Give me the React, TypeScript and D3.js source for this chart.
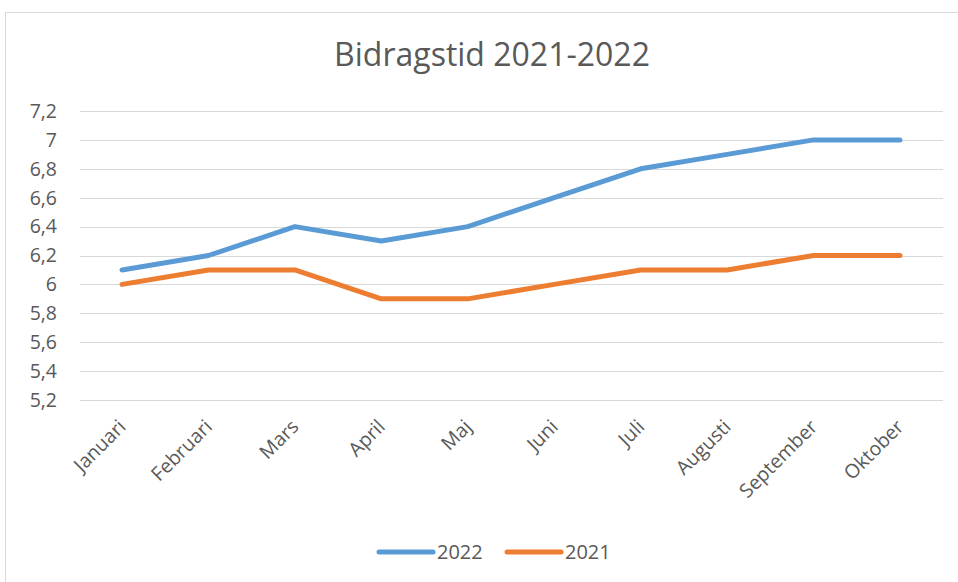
import { useEffect, useRef } from "react";
import * as d3 from "d3";

const months = ["Januari", "Februari", "Mars", "April", "Maj", "Juni", "Juli", "Augusti", "September", "Oktober"];
const values2022 = [6.1, 6.2, 6.4, 6.3, 6.4, 6.6, 6.8, 6.9, 7.0, 7.0];
const values2021 = [6.0, 6.1, 6.1, 5.9, 5.9, 6.0, 6.1, 6.1, 6.2, 6.2];
const yTicks = [5.2, 5.4, 5.6, 5.8, 6.0, 6.2, 6.4, 6.6, 6.8, 7.0, 7.2];

const series = [
  { name: "2022", values: values2022, color: "#5b9bd5" },
  { name: "2021", values: values2021, color: "#ed7d31" },
];

export default function App() {
  const svgRef = useRef<SVGSVGElement>(null);

  useEffect(() => {
    const width = 958;
    const height = 582;
    const font = "'Open Sans', sans-serif";
    const textColor = "#595959";

    const svg = d3.select(svgRef.current)
      .attr("width", width)
      .attr("height", height);
    svg.selectAll("*").remove();

    svg.append("rect")
      .attr("width", width)
      .attr("height", height)
      .attr("fill", "white");

    // chart border
    svg.append("rect")
      .attr("x", 5.5)
      .attr("y", 12.5)
      .attr("width", 960)
      .attr("height", 600)
      .attr("fill", "none")
      .attr("stroke", "#d9d9d9");

    const x = d3.scalePoint<string>()
      .domain(months)
      .range([122, 900]);

    const y = d3.scaleLinear()
      .domain([5.2, 7.2])
      .range([400, 111]);

    // grid
    svg.append("g")
      .selectAll("line")
      .data(yTicks)
      .join("line")
      .attr("x1", 80)
      .attr("x2", 943)
      .attr("y1", d => Math.round(y(d)) + 0.5)
      .attr("y2", d => Math.round(y(d)) + 0.5)
      .attr("stroke", "#d9d9d9")
      .attr("stroke-width", 1);

    // y labels
    svg.append("g")
      .selectAll("text")
      .data(yTicks)
      .join("text")
      .attr("x", 57)
      .attr("y", d => y(d))
      .attr("dy", "0.35em")
      .attr("text-anchor", "end")
      .attr("font-family", font)
      .attr("font-size", 19.5)
      .attr("fill", textColor)
      .text(d => d3.format(".1~f")(d).replace(".", ","));

    // x labels
    svg.append("g")
      .selectAll("text")
      .data(months)
      .join("text")
      .attr("transform", d => `translate(${x(d)! + 5},${428}) rotate(-45)`)
      .attr("text-anchor", "end")
      .attr("font-family", font)
      .attr("font-size", 19.5)
      .attr("fill", textColor)
      .text(d => d);

    const line = d3.line<number>()
      .x((_, i) => x(months[i])!)
      .y(d => y(d));

    svg.append("g")
      .selectAll("path")
      .data(series)
      .join("path")
      .attr("d", d => line(d.values))
      .attr("fill", "none")
      .attr("stroke", d => d.color)
      .attr("stroke-width", 5)
      .attr("stroke-linecap", "round")
      .attr("stroke-linejoin", "round");

    // title
    svg.append("text")
      .attr("x", 492)
      .attr("y", 66)
      .attr("text-anchor", "middle")
      .attr("font-family", font)
      .attr("font-size", 32)
      .attr("fill", textColor)
      .text("Bidragstid 2021-2022");

    // legend
    const legend = svg.append("g")
      .selectAll("g")
      .data(series)
      .join("g")
      .attr("transform", (_, i) => `translate(${379 + i * 128},552)`);
    legend.append("line")
      .attr("x1", 0)
      .attr("x2", 54)
      .attr("stroke", d => d.color)
      .attr("stroke-width", 5)
      .attr("stroke-linecap", "round");
    legend.append("text")
      .attr("x", 58)
      .attr("dy", "0.35em")
      .attr("font-family", font)
      .attr("font-size", 20)
      .attr("fill", textColor)
      .text(d => d.name);
  }, []);

  return (
    <div style={{ position: "absolute", left: 0, top: 0 }}>
      <svg ref={svgRef} style={{ display: "block" }}></svg>
    </div>
  );
}
